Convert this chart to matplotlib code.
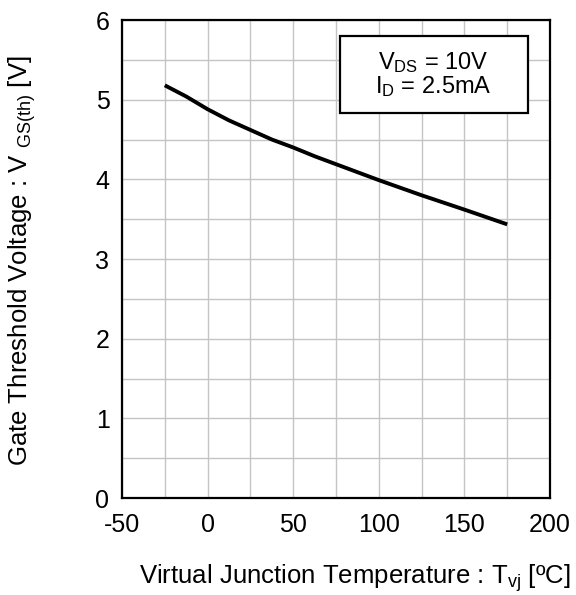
import matplotlib
matplotlib.use("Agg")
import matplotlib.pyplot as plt
from matplotlib.patches import Rectangle
import numpy as np

plt.rcParams['font.family'] = ['Liberation Sans', 'DejaVu Sans']
plt.rcParams['mathtext.fontset'] = 'custom'
plt.rcParams['mathtext.rm'] = 'Liberation Sans'
plt.rcParams['mathtext.it'] = 'Liberation Sans'
plt.rcParams['axes.unicode_minus'] = False

temp = [-25, -12.5, 0, 12.5, 25, 37.5, 50, 62.5, 75, 100, 125, 150, 175]
vth = [5.18, 5.04, 4.88, 4.74, 4.62, 4.50, 4.40, 4.29, 4.19, 3.99, 3.80, 3.62, 3.435]

xticks = [-50, 0, 50, 100, 150, 200]
yticks = [0, 1, 2, 3, 4, 5, 6]

fig = plt.figure(figsize=(5.76, 5.95), dpi=100)
W, H = 576, 595
ax = fig.add_axes([122 / W, 1 - 498 / H, 428 / W, 478 / H])

ax.plot(temp, vth, color='black', lw=2.8, solid_capstyle='butt',
        solid_joinstyle='round', zorder=3)

ax.set_xlim(-50, 200)
ax.set_ylim(0, 6)
ax.set_xticks(xticks)
ax.set_yticks(yticks)
ax.set_xticks(np.arange(-50, 201, 25), minor=True)
ax.set_yticks(np.arange(0, 6.01, 0.5), minor=True)
ax.grid(which='both', color='#c4c4c4', lw=1.0, zorder=0)
ax.tick_params(which='both', length=0, labelsize=18)
ax.tick_params(axis='x', pad=11)
ax.tick_params(axis='y', pad=9)
for s in ax.spines.values():
    s.set_linewidth(1.6)

# annotation box
ax.add_patch(Rectangle((77.3, 4.83), 109.7, 0.97, facecolor='white',
                       edgecolor='black', lw=1.6, zorder=5))
ax.text(132, 5.315,
        "V$_{\\mathrm{DS}}$ = 10V\nI$_{\\mathrm{D}}$ = 2.5mA",
        ha='center', va='center', fontsize=17, linespacing=1.0, zorder=6)

fig.text(355 / W, 1 - 578 / H, "Virtual Junction Temperature : T$_{\\mathrm{vj}}$ [ºC]",
         ha='center', va='center', fontsize=18.5)
fig.text(22 / W, 1 - 261 / H, "Gate Threshold Voltage : V $_{\\mathrm{GS(th)}}$ [V]",
         ha='center', va='center', rotation=90, fontsize=18.5)

fig.savefig("out.png", dpi=100)
